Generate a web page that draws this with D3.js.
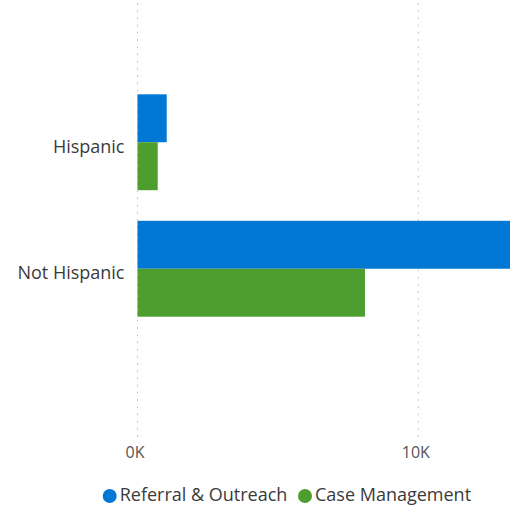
<!DOCTYPE html>
<html>
<head>
<meta charset="utf-8">
<script src="https://cdn.jsdelivr.net/npm/d3@7"></script>
<style>
  html, body { margin: 0; padding: 0; background: #fff; }
  svg { display: block; }
  text { font-family: "Segoe UI", "Open Sans", "Noto Sans", sans-serif; }
</style>
</head>
<body>
<svg id="chart" width="510" height="509"></svg>
<script>
// Categories and series
const categories = ["Hispanic", "Not Hispanic"];
const seriesNames = ["Referral & Outreach", "Case Management"];
const referralOutreach = [1040, 13900];
const caseManagement = [720, 8100];
const seriesColors = ["#0078D4", "#4E9E2F"];
const tickValues = [0, 10000];

const svg = d3.select("#chart");
const W = 510, H = 509;
const FONT = "\"Segoe UI\", \"Open Sans\", \"Noto Sans\", sans-serif";

// Horizontal value scale: 0 at the y-axis line, extending past the right edge
const x = d3.scaleLinear().domain([0, 10000]).range([137.5, 418.3]);

// Category bands and grouped sub-bands
const y = d3.scaleBand().domain(categories).range([79, 332])
  .paddingInner(0.242).paddingOuter(0.121);
const ySub = d3.scaleBand().domain(seriesNames).range([0, y.bandwidth()]);

svg.append("defs").append("clipPath").attr("id", "plotClip")
  .append("rect").attr("x", 0).attr("y", 0).attr("width", W).attr("height", H);

// Dotted vertical gridlines
const grid = svg.append("g");
grid.selectAll("line").data(tickValues).join("line")
  .attr("x1", d => x(d)).attr("x2", d => x(d))
  .attr("y1", 3).attr("y2", 437)
  .attr("stroke", "#c8c8c8").attr("stroke-width", 1)
  .attr("stroke-dasharray", "2,5.2");

// Bars
const rows = categories.map((c, i) => ({
  cat: c,
  values: [
    { name: seriesNames[0], value: referralOutreach[i], color: seriesColors[0] },
    { name: seriesNames[1], value: caseManagement[i], color: seriesColors[1] }
  ]
}));

const bars = svg.append("g").attr("clip-path", "url(#plotClip)");
bars.selectAll("g").data(rows).join("g")
  .attr("transform", d => `translate(0,${y(d.cat)})`)
  .selectAll("rect").data(d => d.values).join("rect")
  .attr("x", x(0))
  .attr("y", d => ySub(d.name))
  .attr("width", d => x(d.value) - x(0))
  .attr("height", ySub.bandwidth())
  .attr("fill", d => d.color);

// Category axis labels
const yAxis = d3.axisLeft(y).tickSize(0).tickPadding(13);
const yg = svg.append("g").attr("transform", `translate(${x(0)},0)`).call(yAxis);
yg.select(".domain").remove();
yg.selectAll("text").attr("font-size", 18).attr("fill", "#3b3b3b")
  .attr("dy", "0.57em")
  .style("font-family", FONT);

// Value axis labels
const xAxis = d3.axisBottom(x).tickValues(tickValues).tickSize(0).tickPadding(0)
  .tickFormat(d => d3.format("d")(d / 1000) + "K");
const xg = svg.append("g").attr("transform", "translate(0,447)").call(xAxis);
xg.select(".domain").remove();
xg.selectAll("text").attr("font-size", 16).attr("fill", "#555")
  .attr("dx", -3)
  .style("font-family", FONT);

// Legend
const legend = svg.append("g").attr("transform", "translate(0,496)");
const legendX = [109.7, 305];
seriesNames.forEach((name, i) => {
  const g = legend.append("g").attr("transform", `translate(${legendX[i]},0)`);
  g.append("circle").attr("r", 7).attr("fill", seriesColors[i]);
  g.append("text").attr("x", 10).attr("y", 4.7)
    .attr("font-size", 18).attr("fill", "#3b3b3b").text(name);
});
</script>
</body>
</html>
